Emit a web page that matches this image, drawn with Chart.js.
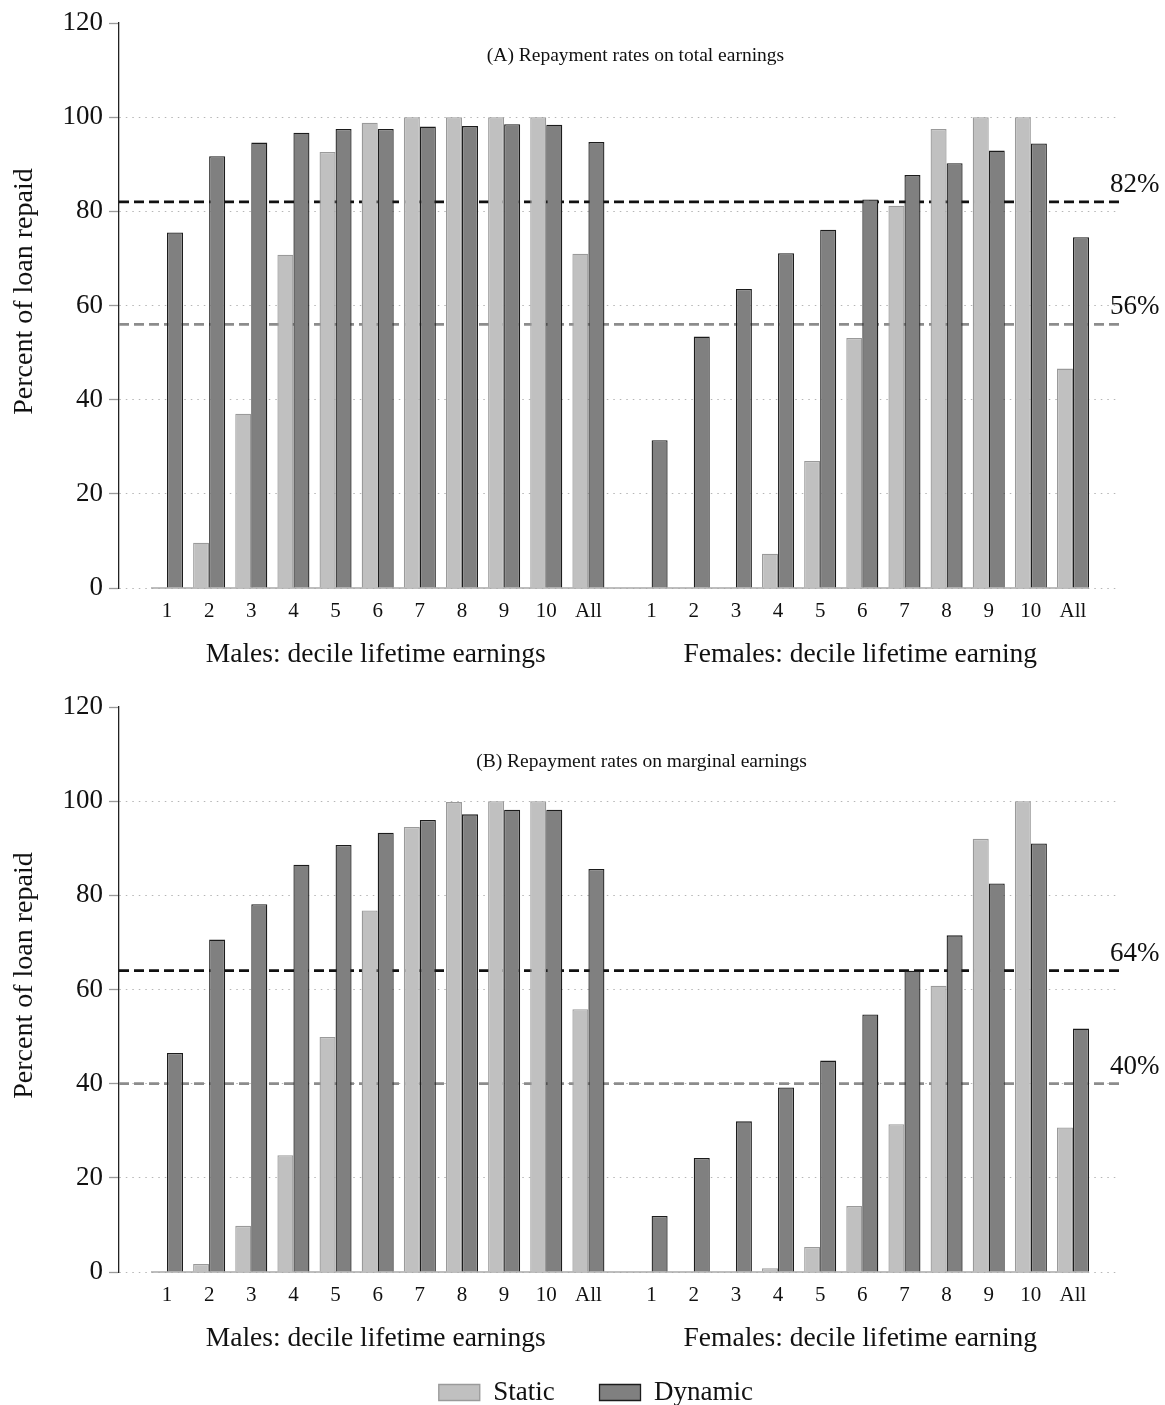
<!DOCTYPE html>
<html><head><meta charset="utf-8">
<script src="https://cdn.jsdelivr.net/npm/chart.js@4"></script>
<style>
html,body{margin:0;padding:0;background:#fff;overflow:hidden;width:1165px;height:1405px}
canvas{position:absolute;left:0}
</style></head>
<body>
<canvas id="chartA" width="1165" height="684" style="top:0px"></canvas>
<canvas id="chartB" width="1165" height="732" style="top:684px"></canvas>
<script>
// ---- data ----
const deciles = ['1','2','3','4','5','6','7','8','9','10','All'];
const groupTitles = ['Males: decile lifetime earnings','Females: decile lifetime earning'];
const seriesNames = ['Static','Dynamic'];
const yTicks = [0,20,40,60,80,100,120];
const yTitle = 'Percent of loan repaid';
const titleA = '(A) Repayment rates on total earnings';
const titleB = '(B) Repayment rates on marginal earnings';

const maleStaticA    = [0, 9.6, 37.0, 70.8, 92.6, 98.8, 100, 100, 100, 100, 71.0];
const maleDynamicA   = [75.5, 91.7, 94.6, 96.7, 97.5, 97.5, 98.0, 98.1, 98.5, 98.4, 94.7];
const femaleStaticA  = [0, 0, 0, 7.3, 27.0, 53.1, 81.2, 97.5, 100, 100, 46.6];
const femaleDynamicA = [31.4, 53.4, 63.5, 71.1, 76.1, 82.5, 87.7, 90.2, 92.9, 94.4, 74.5];

const maleStaticB    = [0, 1.7, 9.8, 24.8, 49.9, 76.8, 94.5, 99.8, 100, 100, 55.8];
const maleDynamicB   = [46.5, 70.6, 78.1, 86.5, 90.7, 93.3, 96.0, 97.2, 98.2, 98.2, 85.6];
const femaleStaticB  = [0, 0, 0, 0.8, 5.3, 14.0, 31.4, 60.8, 92.0, 100, 30.7];
const femaleDynamicB = [11.9, 24.2, 32.0, 39.2, 44.9, 54.7, 64.0, 71.5, 82.5, 91.0, 51.7];

const refValuesA = [82, 56];
const refLabelsA = ['82%', '56%'];
const refValuesB = [64, 40];
const refLabelsB = ['64%', '40%'];

// ---- helpers ----
const FONT = "'Liberation Serif', 'Times New Roman', serif";
const N = deciles.length;
const GAP = 0.5; // extra empty space between the two groups (in category units)
function pos(g, i) { return g * (N + GAP) + i + 1; }
function toPoints(male, female) {
  return male.map((v, i) => ({x: pos(0, i), y: v}))
    .concat(female.map((v, i) => ({x: pos(1, i), y: v})));
}
const tickPositions = [];
for (let g = 0; g < 2; g++) for (let i = 0; i < N; i++) tickPositions.push(pos(g, i));

const deco = {
  id: 'deco',
  beforeDatasetsDraw(chart, args, o) {
    const {ctx, chartArea: ca, scales: {x, y}} = chart;
    ctx.save();
    // solid baseline under the bars
    const bw = chart.getDatasetMeta(0).data[0].width;
    const x0 = x.getPixelForValue(tickPositions[0]) - bw;
    const x1 = x.getPixelForValue(tickPositions[tickPositions.length - 1]) + bw;
    const y0 = y.getPixelForValue(0);
    ctx.strokeStyle = '#a8a8a8'; ctx.lineWidth = 1.5; ctx.setLineDash([]);
    ctx.beginPath(); ctx.moveTo(x0, y0); ctx.lineTo(x1, y0); ctx.stroke();
    // reference dashed lines
    o.refs.forEach((r, k) => {
      const yy = y.getPixelForValue(r);
      ctx.strokeStyle = k === 0 ? '#111111' : '#8c8c8c';
      ctx.lineWidth = 2.6; ctx.setLineDash([10, 5]);
      ctx.beginPath(); ctx.moveTo(ca.left, yy); ctx.lineTo(ca.right, yy); ctx.stroke();
    });
    ctx.restore();
  },
  afterDraw(chart, args, o) {
    const {ctx, chartArea: ca, scales: {x, y}} = chart;
    ctx.save();
    ctx.fillStyle = '#111';
    // reference labels
    ctx.font = '27px ' + FONT; ctx.textAlign = 'left'; ctx.textBaseline = 'middle';
    o.refs.forEach((r, k) => {
      ctx.fillText(o.refLabels[k], ca.right - 10, y.getPixelForValue(r) - 17);
    });
    // panel title
    ctx.font = '19.5px ' + FONT; ctx.textAlign = 'center';
    ctx.fillText(o.title, (ca.left + ca.right) / 2 + o.titleDx, ca.top + o.titleDy);
    // group titles
    ctx.font = '27.5px ' + FONT;
    groupTitles.forEach((t, g) => {
      const cx = x.getPixelForValue((pos(g, 0) + pos(g, N - 1)) / 2);
      ctx.fillText(t, cx - 2, ca.bottom + 67);
    });
    // y-axis title
    ctx.font = '28px ' + FONT;
    ctx.translate(25, (ca.top + ca.bottom) / 2 - 14);
    ctx.rotate(-Math.PI / 2);
    ctx.fillText(yTitle, 0, 0);
    ctx.restore();
  }
};

function makeChart(id, mS, mD, fS, fD, refs, refLabels, title, titleDx, titleDy, showLegend) {
  return new Chart(document.getElementById(id), {
    type: 'bar',
    data: {
      datasets: [
        {label: seriesNames[0], data: toPoints(mS, fS), backgroundColor: '#c0c0c0', borderColor: '#9a9a9a', borderWidth: 1.3},
        {label: seriesNames[1], data: toPoints(mD, fD), backgroundColor: '#808080', borderColor: '#1c1c1c', borderWidth: 1.3}
      ]
    },
    options: {
      responsive: false, animation: false, devicePixelRatio: 1, events: [],
      layout: {padding: {top: 23, right: 45, left: 0, bottom: 0}},
      datasets: {bar: {categoryPercentage: 0.76, barPercentage: 1.0}},
      scales: {
        x: {
          type: 'linear', min: -0.139, max: 23.615, offset: false,
          afterBuildTicks: s => { s.ticks = tickPositions.map(v => ({value: v})); },
          afterFit: s => { s.height = 96; },
          grid: {display: false, drawTicks: false, offset: false},
          border: {display: false},
          ticks: {autoSkip: false, maxRotation: 0, padding: 11, color: '#111',
                  font: {family: FONT, size: 21},
                  callback: (v, i) => deciles[i % N]}
        },
        y: {
          min: 0, max: 120,
          afterBuildTicks: s => { s.ticks = yTicks.map(v => ({value: v})); },
          afterFit: s => { s.width = 119; },
          grid: {color: c => (c.tick && c.tick.value === 120) ? 'rgba(0,0,0,0)' : '#b5b5b5',
                 lineWidth: 1, tickColor: '#9a9a9a', tickLength: 10, tickWidth: 1.3, tickBorderDash: []},
          border: {display: true, color: '#222', width: 1.3, dash: [1.5, 5]},
          ticks: {padding: 6, color: '#111', font: {family: FONT, size: 27}},
          title: {display: false, text: yTitle}
        }
      },
      plugins: {
        tooltip: {enabled: false},
        legend: {
          display: showLegend, position: 'bottom', fullSize: false,
          labels: {
            color: '#111', font: {family: FONT, size: 27}, boxWidth: 41, boxHeight: 16, padding: 11,
            generateLabels: chart => {
              const items = Chart.defaults.plugins.legend.labels.generateLabels(chart);
              items.forEach((it, i) => { it.text = it.text + (i < items.length - 1 ? '     ' : '       '); });
              return items;
            }
          }
        },
        deco: {refs, refLabels, title, titleDx, titleDy}
      }
    },
    plugins: [deco]
  });
}

makeChart('chartA', maleStaticA, maleDynamicA, femaleStaticA, femaleDynamicA,
          refValuesA, refLabelsA, titleA, 16, 33, false);
makeChart('chartB', maleStaticB, maleDynamicB, femaleStaticB, femaleDynamicB,
          refValuesB, refLabelsB, titleB, 22, 55, true);
</script>
</body></html>
